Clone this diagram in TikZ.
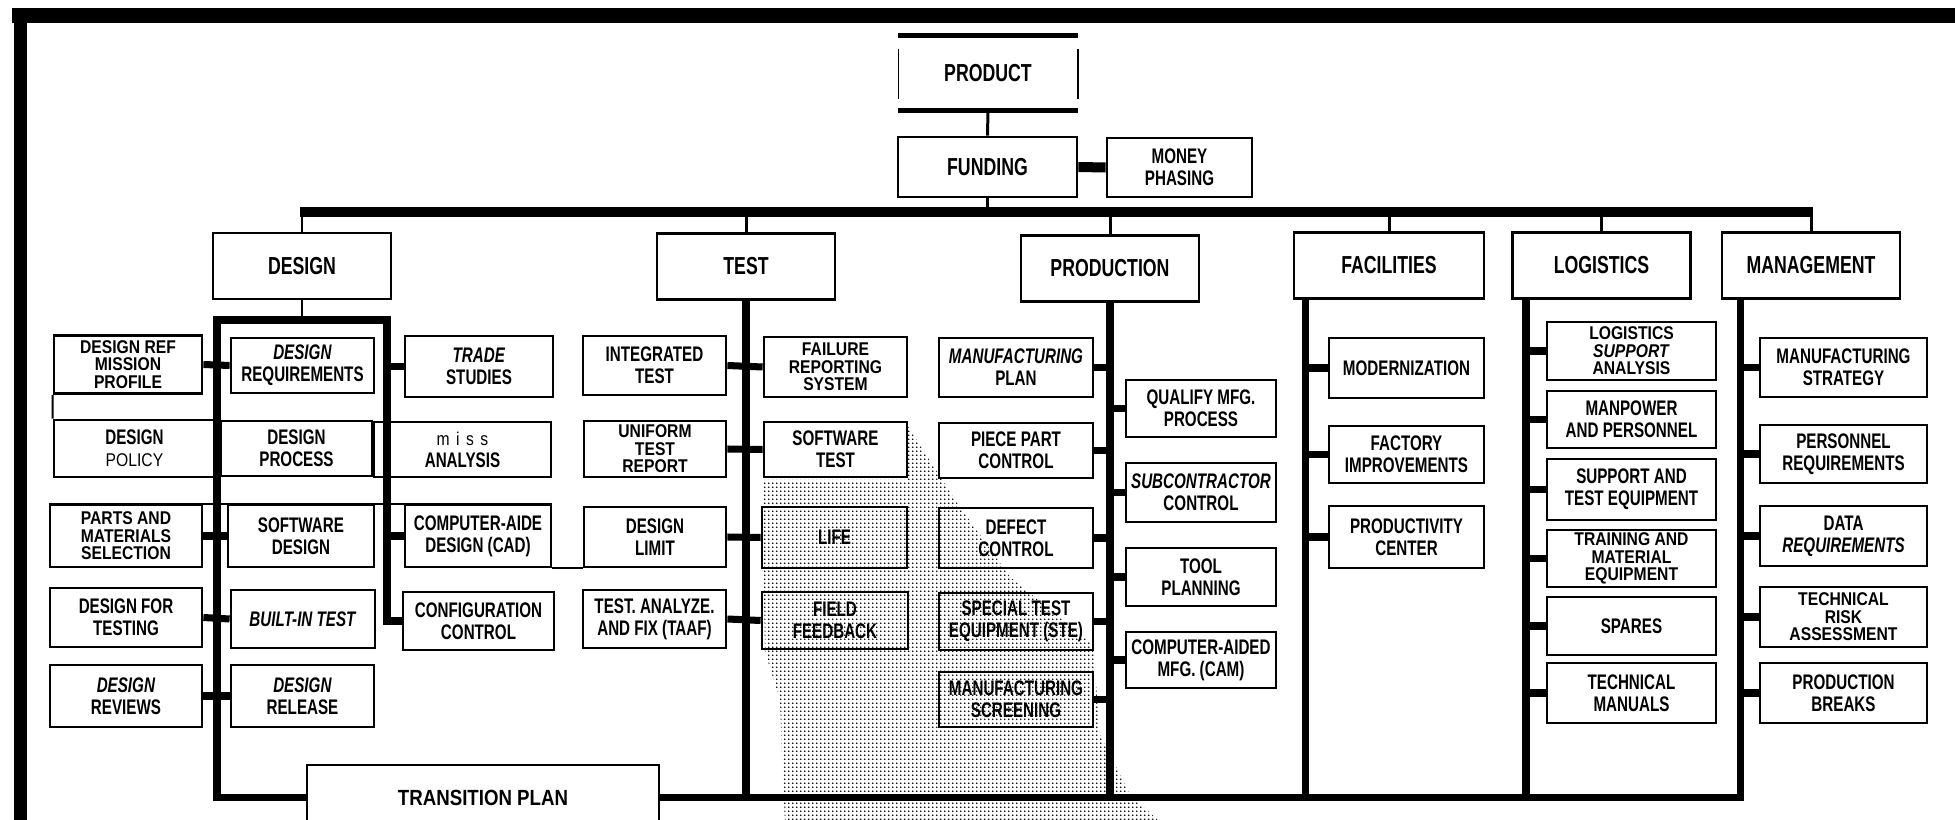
\documentclass[tikz,border=0pt]{standalone}
\usepackage{fontspec}
\setmainfont{Liberation Sans}[FakeStretch=0.72]
\newfontfamily\widefont{Liberation Sans}[FakeStretch=0.85]
\usepackage{tikz}
\usetikzlibrary{positioning,calc,patterns}
\pgfdeclarepatternformonly{halfdots}{\pgfpointorigin}{\pgfqpoint{2.4pt}{2.4pt}}{\pgfqpoint{2.4pt}{2.4pt}}
  {\pgfpathcircle{\pgfqpoint{1.2pt}{1.2pt}}{.62pt}\pgfusepath{fill}}
\newcommand\boxfont{\fontsize{12}{12.5}\selectfont\bfseries}
\newcommand\tripfont{\widefont\fontsize{10.5}{10}\selectfont\bfseries}
\newcommand\headfont{\fontsize{14}{16}\selectfont\bfseries}

\begin{document}
\begin{tikzpicture}[x=0.02cm, y=-0.02cm,
  box/.style={draw, line width=1.6pt, inner sep=0pt, align=center, font=\boxfont},
  sbox/.style={box, minimum width=#1, minimum height=1.16cm},
  sbox/.default=2.9cm,
  trip/.style={font=\tripfont},
  headbox/.style={box, minimum width=3.56cm, minimum height=1.32cm, font=\headfont},
  drop/.style={line width=1.7pt},
  stub/.style={line width=4pt},
  spine/.style={line width=4.3pt},
  bus/.style={line width=5.7pt},
  rim/.style={line width=1.2pt},
  halftone/.style={pattern=halfdots, pattern color=black}]
\useasboundingbox (0,0) rectangle (1955,820);
\clip (0,0) rectangle (1955,820);
\fill (12,8) rectangle (1955,23);
\fill (14,8) rectangle (27,820);
\path[halftone] (907,425) -- (955,500) -- (1010,577) -- (1093,645) -- (1100,735) -- (1130,795) -- (1160,822)
  -- (785,822) -- (782,760) -- (780,700) -- (765,652) -- (762,480) -- (907,480) -- cycle;

\node[headbox, minimum width=3.54cm, minimum height=1.44cm, draw=none] (product) at (988,73) {PRODUCT};
\node[headbox, minimum width=3.58cm, minimum height=1.2cm] (funding) at (987.5,167) {FUNDING};
\node[sbox=2.9cm, minimum height=1.18cm] (money) at (1179.5,167.5) {MONEY\\PHASING};
\draw[line width=0.7pt] ($(product.north west)+(0,13)$) -- ($(product.south west)+(0,-11)$)
  ($(product.north east)+(0,13)$) -- ($(product.south east)+(0,-11)$);
\draw[line width=2.6pt] (product.north west) -- (product.north east) (product.south west) -- (product.south east);

\node[headbox] (design) at (302,266) {DESIGN};
\node[headbox] (test) at (746,266.5) {TEST};
\node[headbox] (production) at (1110,268.5) {PRODUCTION};
\node[headbox, minimum width=3.8cm] (facilities) at (1389,265.5) {FACILITIES};
\node[headbox] (logistics) at (1601.5,265.5) {LOGISTICS};
\node[headbox] (management) at (1811,265.5) {MANAGEMENT};

\node[sbox=2.96cm, trip] (refmission) at (128,364.5) {DESIGN REF\\MISSION\\PROFILE};
\node[sbox=2.86cm, minimum height=1.1cm] (designreq) at (302.5,365.5) {\textit{DESIGN}\\REQUIREMENTS};
\node[sbox=2.96cm, minimum height=1.22cm] (trade) at (479,366.5) {\textit{TRADE}\\STUDIES};
\node[sbox=3.22cm, minimum height=1.14cm] (policy) at (134.5,448.5) {DESIGN\\{\widefont\mdseries\fontsize{10.5}{12.5}\selectfont POLICY}};
\node[sbox=3.02cm, minimum height=1.1cm] (process) at (296.5,448.5) {DESIGN\\PROCESS};
\node[sbox=3.54cm, minimum height=1.1cm] (analysis) at (462.5,449.5) {{\widefont\mdseries\fontsize{10.5}{12.5}\selectfont m\hspace{.35em}i\hspace{.35em}s\hspace{.35em}s}\\ANALYSIS};
\node[sbox=3.04cm, minimum height=1.24cm, trip] (parts) at (126,536) {PARTS AND\\MATERIALS\\SELECTION};
\node[sbox=2.92cm, minimum height=1.24cm] (swdesign) at (301,536) {SOFTWARE\\DESIGN};
\node[sbox=2.92cm, minimum height=1.24cm] (cad) at (478,536) {COMPUTER-AIDE\\DESIGN (CAD)};
\node[sbox=3.04cm, minimum height=1.18cm] (testing) at (126,617.5) {DESIGN FOR\\TESTING};
\node[sbox=2.88cm] (builtin) at (303,619) {\textit{BUILT-IN TEST}};
\node[sbox=3.02cm] (config) at (478.5,621) {CONFIGURATION\\CONTROL};
\node[sbox=3.04cm, minimum height=1.24cm] (reviews) at (126,696) {\textit{DESIGN}\\REVIEWS};
\node[sbox=2.86cm, minimum height=1.24cm] (release) at (302.5,696) {\textit{DESIGN}\\RELEASE};
\node[box, minimum width=7.04cm, minimum height=1.3cm, font=\widefont\fontsize{12.5}{14}\selectfont\bfseries] (transition) at (483,797.5) {TRANSITION PLAN};

\node[sbox=2.86cm, minimum height=1.18cm] (integrated) at (654.5,365.5) {INTEGRATED\\TEST};
\node[sbox=2.86cm, minimum height=1.2cm, trip] (failure) at (835.5,367) {FAILURE\\REPORTING\\SYSTEM};
\node[sbox=2.84cm, minimum height=1.12cm, trip] (uniform) at (655,449) {UNIFORM\\TEST\\REPORT};
\node[sbox=2.86cm, minimum height=1.1cm] (swtest) at (835.5,449.5) {SOFTWARE\\TEST};
\node[sbox=2.84cm, minimum height=1.2cm] (limit) at (655,537) {DESIGN\\LIMIT};
\node[sbox=2.9cm, minimum height=1.22cm] (life) at (834.5,537.5) {LIFE};
\node[sbox=2.86cm] (taaf) at (654.5,619) {TEST. ANALYZE.\\AND FIX (TAAF)};
\node[sbox=2.92cm, minimum height=1.14cm] (feedback) at (835,620.5) {FIELD\\FEEDBACK};

\node[sbox=3.08cm, minimum height=1.18cm] (mfgplan) at (1016,367.5) {\textit{MANUFACTURING}\\PLAN};
\node[sbox=3.08cm, minimum height=1.1cm] (piecepart) at (1016,450.5) {PIECE PART\\CONTROL};
\node[sbox=3.08cm, minimum height=1.2cm] (defect) at (1016,538) {DEFECT\\CONTROL};
\node[sbox=3.08cm, minimum height=1.14cm] (ste) at (1016,621.5) {SPECIAL TEST\\EQUIPMENT (STE)};
\node[sbox=3.08cm, minimum height=1.1cm] (screening) at (1016,699.5) {MANUFACTURING\\SCREENING};
\node[sbox=3cm, minimum height=1.14cm] (qualify) at (1201,408.5) {QUALIFY MFG.\\PROCESS};
\node[sbox=3cm, minimum height=1.18cm] (subcon) at (1201,492.5) {\textit{SUBCONTRACTOR}\\CONTROL};
\node[sbox=3cm] (tooling) at (1201,577) {TOOL\\PLANNING};
\node[sbox=3cm, minimum height=1.12cm] (cam) at (1201,660) {COMPUTER-AIDED\\MFG. (CAM)};

\node[sbox=3.1cm, minimum height=1.2cm] (modern) at (1406.5,368) {MODERNIZATION};
\node[sbox=3.1cm, minimum height=1.14cm] (factory) at (1406.5,454.5) {FACTORY\\IMPROVEMENTS};
\node[sbox=3.1cm, minimum height=1.24cm] (prodcenter) at (1406.5,537) {PRODUCTIVITY\\CENTER};

\node[sbox=3.38cm, trip] (lsa) at (1631.5,351) {LOGISTICS\\\textit{SUPPORT}\\ANALYSIS};
\node[sbox=3.38cm, minimum height=1.14cm] (manpower) at (1631.5,419.5) {MANPOWER\\AND PERSONNEL};
\node[sbox=3.38cm, minimum height=1.22cm] (supptest) at (1631.5,489.5) {SUPPORT AND\\TEST EQUIPMENT};
\node[sbox=3.38cm, minimum height=1.14cm, trip] (training) at (1631.5,558.5) {TRAINING AND\\MATERIAL\\EQUIPMENT};
\node[sbox=3.38cm] (spares) at (1631.5,626) {SPARES};
\node[sbox=3.38cm, minimum height=1.2cm] (manuals) at (1631.5,693) {TECHNICAL\\MANUALS};

\node[sbox=3.34cm, minimum height=1.18cm] (strategy) at (1843.5,367.5) {MANUFACTURING\\STRATEGY};
\node[sbox=3.34cm] (personnel) at (1843.5,454) {PERSONNEL\\REQUIREMENTS};
\node[sbox=3.34cm, minimum height=1.2cm] (datareq) at (1843.5,536) {DATA\\\textit{REQUIREMENTS}};
\node[sbox=3.34cm, minimum height=1.2cm, trip] (risk) at (1843.5,617) {TECHNICAL\\RISK\\ASSESSMENT};
\node[sbox=3.34cm, minimum height=1.2cm] (breaks) at (1843.5,693) {PRODUCTION\\BREAKS};

\coordinate (busL) at (300,212);
\coordinate (busR) at (1813,212);
\coordinate (dfL) at (217,320);
\coordinate (dfR) at (387,320);
\coordinate (facB) at ($(facilities.south west)+(13,0)$);
\coordinate (logB) at ($(logistics.south west)+(15,0)$);
\coordinate (mgtB) at ($(management.south west)+(20,0)$);

\draw[drop] (product.south) -- (funding.north);
\draw[bus] (funding.east) -- (money.west);
\draw[bus] (busL) -- (busR);
\draw[drop] (funding.south) -- (funding.south |- busL);
\foreach \n in {design,test,production,facilities,logistics,management}
  \draw[drop] (\n.north) -- (\n.north |- busL);

\draw[drop] (design.south) -- (design.south |- dfL);
\draw[spine] (transition.west) -| (dfL) -- (dfR) |- (config.west);
\draw[stub] (refmission.east) -- (designreq.west);
\draw[stub] (parts.east) -- (swdesign.west);
\draw[stub] (testing.east) -- (builtin.west);
\draw[stub] (reviews.east) -- (release.west);
\draw[stub] (trade.west) -- (trade.west -| dfR);
\draw[stub] (cad.west) -- (cad.west -| dfR);
\draw[rim] (refmission.south west) -- (policy.north west);
\draw[rim] (parts.north west) -- (cad.north east);
\draw[rim] (cad.south east) -- (limit.south west);

\draw[spine] (test.south) -- (test.south |- transition.east);
\draw[spine] (production.south) -- (production.south |- transition.east);
\draw[spine] (facB) -- (facB |- transition.east);
\draw[spine] (logB) -- (logB |- transition.east);
\draw[spine] (mgtB) |- (transition.east);

\draw[stub] (integrated.east) -- (failure.west);
\draw[stub] (uniform.east) -- (swtest.west);
\draw[stub] (limit.east) -- (life.west);
\draw[stub] (taaf.east) -- (feedback.west);
\foreach \n in {mfgplan,piecepart,defect,ste,screening}
  \draw[stub] (\n.east) -- (\n.east -| production.south);
\foreach \n in {qualify,subcon,tooling,cam}
  \draw[stub] (\n.west) -- (\n.west -| production.south);
\foreach \n in {modern,factory,prodcenter}
  \draw[stub] (\n.west) -- (\n.west -| facB);
\foreach \n in {lsa,manpower,supptest,training,spares,manuals}
  \draw[stub] (\n.west) -- (\n.west -| logB);
\foreach \n in {strategy,personnel,datareq,risk,breaks}
  \draw[stub] (\n.west) -- (\n.west -| mgtB);
\end{tikzpicture}
\end{document}
